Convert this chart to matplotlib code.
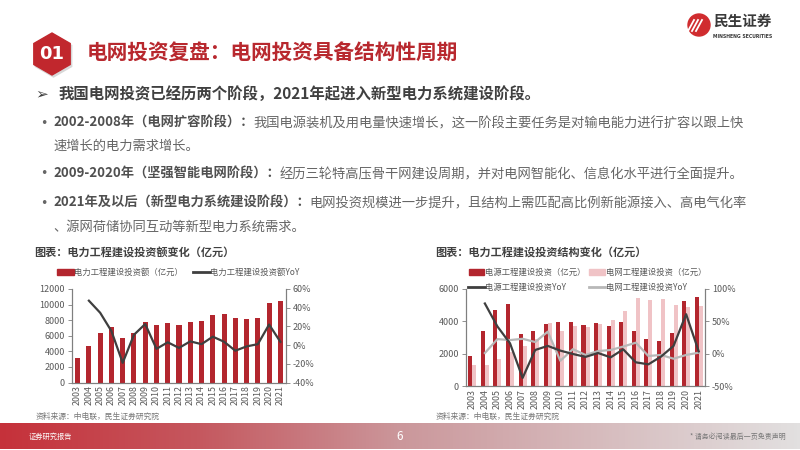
import numpy as np
import matplotlib
matplotlib.use('Agg')
import matplotlib.pyplot as plt
from matplotlib.patches import RegularPolygon, Circle, Rectangle
from matplotlib.colors import LinearSegmentedColormap

plt.rcParams['font.family'] = ['Noto Sans CJK SC', 'DejaVu Sans']
plt.rcParams['axes.unicode_minus'] = False

W, H = 800, 450

# ---- data ----
years = [str(y) for y in range(2003, 2022)]

# 电力工程建设投资额（亿元）and YoY (%)
total_invest = [3200, 4700, 6300, 7100, 5700, 6300, 7750, 7400, 7600, 7400,
                7750, 7850, 8600, 8800, 8250, 8150, 8300, 10250, 10500]
total_yoy = [np.nan, 47.5, 34.6, 15, -19, 11, 22.5, -4, 3, -3,
             4, 1, 9, 3.6, -6, -1.4, 1, 22, 3.5]

# 电源 / 电网 工程建设投资（亿元）and YoY (%)
power_invest = [1870, 3380, 4700, 5070, 3230, 3420, 3830, 3970, 3930, 3770,
                3890, 3700, 3930, 3410, 2900, 2800, 3290, 5280, 5530]
grid_invest = [1280, 1300, 1660, 2100, 2450, 2900, 3900, 3420, 3700, 3660,
               3860, 4100, 4660, 5440, 5340, 5380, 4980, 4900, 4970]
power_yoy = [np.nan, 77.6, 42, 16, -37.5, 5.7, 12, 4.7, -0.5, -5,
             1, -5.7, 6.7, -13.4, -16.5, -4.6, 12, 61, 3.6]
grid_yoy = [np.nan, 1, 22.5, 21, 23, 18, 34, -11, 7, -2,
            4, 5.7, 11, 17, -3.6, -2, -7.8, -2, 1.5]

left_ticks = [0, 2000, 4000, 6000, 8000, 10000, 12000]
left_pct_ticks = [-40, -20, 0, 20, 40, 60]
right_ticks = [0, 2000, 4000, 6000]
right_pct_ticks = [-50, 0, 50, 100]

RED = '#b3262e'
PINK = '#f0c3c6'
DARK = '#3f3f3f'
LIGHT = '#b8b8b8'
GRAY_TXT = '#595959'
BODY = 9.55

fig = plt.figure(figsize=(8, 4.5), dpi=100)
renderer = fig.canvas.get_renderer()


def px_axes(x0, y0, x1, y1):
    return fig.add_axes([x0 / W, 1 - y1 / H, (x1 - x0) / W, (y1 - y0) / H])


def ftext(x, y, s, **kw):
    kw.setdefault('va', 'center')
    return fig.text(x / W, 1 - y / H, s, **kw)


def rich_line(x, y, bold, normal, size=BODY):
    t = ftext(x, y, bold, fontsize=size, fontweight='bold', color='#505050')
    w = t.get_window_extent(renderer).width
    ftext(x + w, y, normal, fontsize=size, color='#666666')


# background layer in pixel coordinates
bg = fig.add_axes([0, 0, 1, 1], zorder=0)
bg.set_xlim(0, W)
bg.set_ylim(H, 0)
bg.axis('off')

# header badge and title
bg.add_patch(RegularPolygon((53.5, 56), 6, radius=21, color='#d8d8d8'))
bg.add_patch(RegularPolygon((52, 54), 6, radius=21, color='#c1272d'))
ftext(52, 54, '01', fontsize=13, fontweight='bold', color='white', ha='center',
      family='DejaVu Sans')
ftext(87, 53, '电网投资复盘：电网投资具备结构性周期', fontsize=14.9,
      fontweight='bold', color='#b8282e')

# logo
bg.add_patch(Circle((699, 25), 11, color='#d02c2f'))
for dx in (-4, 0, 4):
    bg.plot([692 + dx, 698 + dx], [31, 20], color='white', lw=1.3)
ftext(713, 21, '民生证券', fontsize=10.5, fontweight='bold', color='#3a3a3a')
ftext(713, 36, 'MINSHENG SECURITIES', fontsize=3.3, fontweight='bold',
      color='#3a3a3a', family='DejaVu Sans')

# heading and bullets
ftext(35, 94, '➢', fontsize=11, color='#404040', family='DejaVu Sans')
ftext(59, 94, '我国电网投资已经历两个阶段，2021年起进入新型电力系统建设阶段。',
      fontsize=11.1, fontweight='bold', color='#404040')

for yy in (123, 174, 203):
    ftext(40, yy, '•', fontsize=9, color='#666666', family='DejaVu Sans')
rich_line(53, 123, '2002-2008年（电网扩容阶段）：',
          '我国电源装机及用电量快速增长，这一阶段主要任务是对输电能力进行扩容以跟上快')
ftext(53, 146, '速增长的电力需求增长。', fontsize=BODY, color='#666666')
rich_line(53, 174, '2009-2020年（坚强智能电网阶段）：',
          '经历三轮特高压骨干网建设周期，并对电网智能化、信息化水平进行全面提升。')
rich_line(53, 203, '2021年及以后（新型电力系统建设阶段）：',
          '电网投资规模进一步提升，且结构上需匹配高比例新能源接入、高电气化率')
ftext(53, 227, '、源网荷储协同互动等新型电力系统需求。', fontsize=BODY, color='#666666')

# chart titles
ftext(34, 252, '图表：电力工程建设投资额变化（亿元）', fontsize=8, fontweight='bold',
      color='#404040')
ftext(435, 252, '图表：电力工程建设投资结构变化（亿元）', fontsize=8, fontweight='bold',
      color='#404040')

# legends (drawn by hand, like the slide)
LG = 6
bg.add_patch(Rectangle((57, 268.5), 17, 6, color=RED))
ftext(74, 272, '电力工程建设投资额（亿元）', fontsize=LG, color=GRAY_TXT)
bg.plot([193, 210], [272, 272], color=DARK, lw=2)
ftext(210, 272, '电力工程建设投资额YoY', fontsize=LG, color=GRAY_TXT)

bg.add_patch(Rectangle((469, 269), 15, 6, color=RED))
ftext(485, 272, '电源工程建设投资（亿元）', fontsize=LG, color=GRAY_TXT)
bg.add_patch(Rectangle((589, 269), 16, 6, color=PINK))
ftext(606, 272, '电网工程建设投资（亿元）', fontsize=LG, color=GRAY_TXT)
bg.plot([468, 485], [287, 287], color=DARK, lw=2)
ftext(485, 287, '电源工程建设投资YoY', fontsize=LG, color=GRAY_TXT)
bg.plot([589, 605], [287, 287], color=LIGHT, lw=2)
ftext(606, 287, '电网工程建设投资YoY', fontsize=LG, color=GRAY_TXT)

# sources
ftext(36, 417, '资料来源：中电联，民生证券研究院', fontsize=5.6, color='#777777')
ftext(436, 417, '资料来源：中电联，民生证券研究院', fontsize=5.6, color='#777777')


def style_axes(ax, axr):
    for a in (ax, axr):
        a.set_facecolor('none')
        a.spines['top'].set_visible(False)
        for s in ('left', 'right', 'bottom'):
            a.spines[s].set_color('#7f7f7f')
            a.spines[s].set_linewidth(0.8)
        a.tick_params(axis='y', labelsize=6.5, labelcolor=GRAY_TXT, color='#7f7f7f',
                      length=3, width=0.6, pad=2)
    ax.tick_params(axis='x', length=0, labelsize=6.4, labelcolor=GRAY_TXT,
                   rotation=90, pad=2)
    ax.set_xlim(-0.5, len(years) - 0.5)
    ax.set_xticks(range(len(years)))
    ax.set_xticklabels(years)


x = np.arange(len(years))

# left chart
ax1 = px_axes(72, 289, 286, 382.5)
ax1.set_zorder(2)
ax1r = ax1.twinx()
ax1.bar(x, total_invest, width=0.45, color=RED)
ax1r.plot(x, total_yoy, color=DARK, lw=1.6)
ax1.set_ylim(0, 12000)
ax1.set_yticks(left_ticks)
ax1r.set_ylim(-40, 60)
ax1r.set_yticks(left_pct_ticks)
ax1r.set_yticklabels([f'{v}%' for v in left_pct_ticks])
style_axes(ax1, ax1r)

# right chart
ax2 = px_axes(466, 289, 705, 386)
ax2.set_zorder(2)
ax2r = ax2.twinx()
ax2.bar(x - 0.16, power_invest, width=0.32, color=RED)
ax2.bar(x + 0.16, grid_invest, width=0.32, color=PINK)
ax2r.plot(x, grid_yoy, color=LIGHT, lw=1.6)
ax2r.plot(x, power_yoy, color=DARK, lw=1.6)
ax2.set_ylim(0, 6000)
ax2.set_yticks(right_ticks)
ax2r.set_ylim(-50, 100)
ax2r.set_yticks(right_pct_ticks)
ax2r.set_yticklabels([f'{v}%' for v in right_pct_ticks])
style_axes(ax2, ax2r)

# footer band
foot = px_axes(0, 423, 800, 449)
cmap = LinearSegmentedColormap.from_list(
    'foot', [(0, '#c5313a'), (0.25, '#c5585f'), (0.5, '#cb979b'), (1, '#e2e0e0')])
foot.imshow(np.linspace(0, 1, 256)[None, :], cmap=cmap, aspect='auto',
            extent=[0, 1, 0, 1])
foot.axis('off')
ftext(29, 437, '证券研究报告', fontsize=5.2, color='white')
ftext(400, 436, '6', fontsize=8.5, color='white', ha='center')
ftext(786, 437, '* 请务必阅读最后一页免责声明', fontsize=5, color='#777777', ha='right')

fig.savefig('out.png', dpi=100)
